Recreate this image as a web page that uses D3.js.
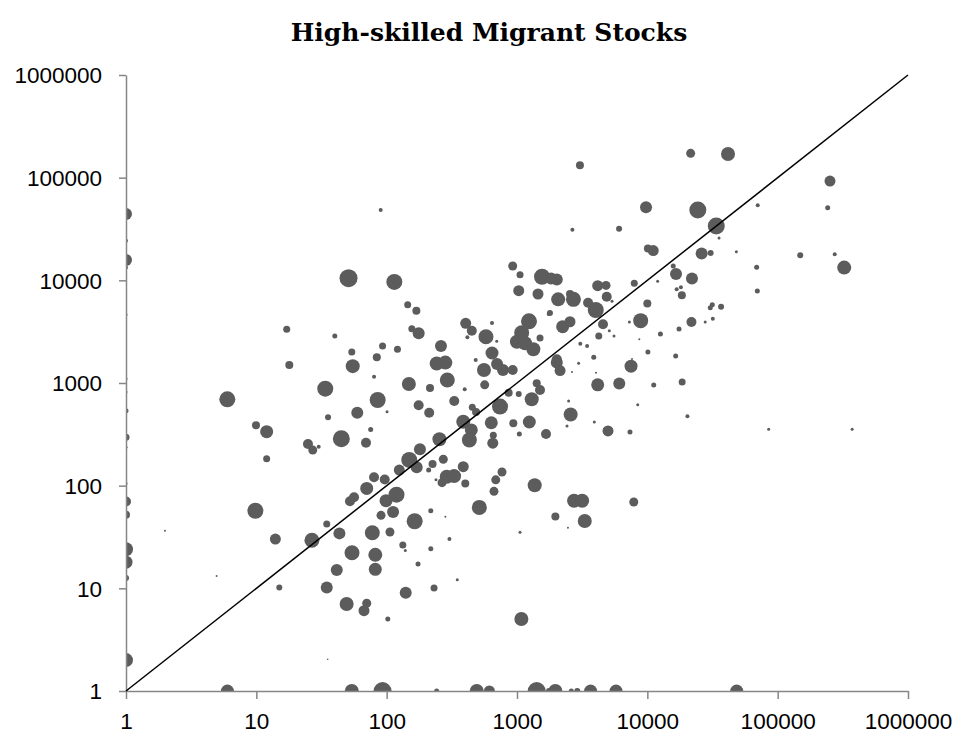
<!DOCTYPE html>
<meta charset="utf-8">
<html>
<head>
<script src="https://d3js.org/d3.v7.min.js"></script>
<style>
  body { margin: 0; background: #fff; }
  .tick text { font-family: "Liberation Sans", Arial, sans-serif; font-size: 22.5px; fill: #000; }
</style>
</head>
<body>
<div id="chart"></div>
<script>
// origin country stock (x) vs destination stock (y), bubble size = third variable
const xVals = [
  1, 1, 1, 1, 1, 1, 1, 1, 1, 1, 1, 1, 1, 1, 1, 1, 1, 1,
  6, 54, 93, 242, 491, 614, 1416, 1760, 1970, 2610, 2900, 3670, 5750, 48500,
  17.1, 90, 51, 114.5, 145, 169, 40, 54, 93, 121, 84, 156, 176, 261, 242, 282,
  404, 450, 416, 643, 578, 699, 643, 482, 927, 1055, 1556, 1031, 1449, 1236, 1086,
  998, 1153, 1335, 1502, 1750, 3040, 21500, 41600, 9770, 24400, 33800, 35500, 70300,
  2660, 6070, 10100, 11100, 48200, 30600, 26100, 15800, 69000, 16600, 22000, 12000,
  69800, 16800, 18100, 18400, 7940, 10000, 31500, 30400, 36800, 21800, 27800, 31800,
  8890, 7280, 17500, 12600, 8680, 10100, 16500, 4240, 4570, 3060, 3450, 3880, 5110,
  5550, 2020, 1825, 4160, 4820, 4880, 5360, 2070, 2710, 2550, 3510, 4020, 2240, 2550,
  1790, 2020, 7630, 252000, 242000, 149000, 274000, 324000,
  5.99, 9.94, 12, 12, 24.9, 27.1, 30.1, 17.9, 33.8, 35.5, 9.83, 14, 26.7, 34.7, 1.99, 4.96,
  54.9, 80, 292, 148, 215, 397, 85.3, 59.5, 100.7, 176, 212, 330, 558, 703, 781, 927,
  565, 863, 1031, 1417, 1297, 1502, 741, 635, 937, 1243, 1042, 1670, 454, 387, 446, 431,
  652, 658, 254, 44.9, 69.4, 75.4, 180, 149, 125, 170, 225, 210, 272, 387, 289, 329, 266,
  401, 239, 767, 687, 666, 1367, 80, 96.6, 70.3, 56.2, 52.3, 119, 98.9, 112, 90.5, 164,
  218, 514, 77.6, 106, 43.4, 133, 139, 218, 303, 282, 54.2, 81.8, 41.4, 81.8, 174, 1055,
  2020, 2140, 7500, 4160, 6090, 11200, 18500, 2970, 2640, 4040, 2490, 8440, 2580, 3920,
  2420, 4990, 7360, 20300, 85300, 2740, 3160, 7870, 1970, 3310, 2460,
  15, 34.7, 35.3, 49.3, 70.3, 67, 140, 231, 102, 1080, 348, 373000, 485
];
const yVals = [
  44300, 24300, 15800, 13300, 4620, 1100, 817, 537, 296, 237, 105, 70, 52, 24, 18, 12.6, 2, 1,
  1, 1, 1, 1, 1, 1, 1, 1, 1, 1, 1, 1, 1, 1,
  3330, 48400, 10500, 9640, 5790, 5060, 2870, 2000, 2290, 2130, 1780, 3380, 3050, 2290, 1550, 1580,
  3810, 3230, 2790, 3840, 2820, 2550, 1960, 1675, 13800, 11350, 10840, 7920, 7360, 3990, 3090,
  2525, 2440, 2130, 2740, 4700, 132000, 172500, 170000, 51400, 48400, 33800, 25800, 53800,
  31100, 31800, 20400, 19500, 19000, 18500, 18300, 13800, 13400, 11500, 10400, 9800,
  7870, 8190, 8560, 7150, 9350, 5960, 5790, 5410, 5530, 3930, 3930, 4230,
  4050, 3930, 3360, 3000, 2670, 2000, 1830, 2870, 3730, 2415, 2290, 1780, 3230,
  2870, 10200, 10400, 8870, 8930, 6920, 6250, 6530, 6530, 7360, 6050, 5140, 3540, 3950,
  4810, 1700, 1714, 92700, 50900, 17600, 18000, 13300,
  693, 387, 336, 183, 255, 222, 240, 1500, 880, 464, 57, 30.2, 29.4, 42.3, 36.4, 13.2,
  1460, 1150, 1070, 977, 893, 869, 683, 514, 525, 607, 514, 668, 1340, 1530, 1340, 1340,
  960, 804, 781, 993, 694, 854, 589, 410, 405, 417, 318, 318, 580, 420, 349, 279,
  259, 309, 283, 287, 262, 353, 226, 178, 142, 151, 163, 142, 181, 153, 122, 124, 107,
  105, 114, 136, 114, 88, 101, 121, 115, 94, 77.1, 70.5, 81.7, 71.4, 55.4, 51.4, 45,
  57, 61.4, 34.8, 35.4, 34.3, 26.4, 23.3, 24.3, 30.2, 49.9, 22.2, 21.2, 15.1, 15.3, 17.3, 35.1,
  1580, 1320, 1460, 960, 991, 955, 1020, 1556, 1280, 1260, 668, 615, 494, 417,
  381, 341, 334, 474, 354, 71.4, 71.4, 69.3, 50.2, 45.3, 39,
  10.2, 10.2, 2.04, 7.03, 7.15, 6.06, 9.06, 10.1, 5.03, 5.03, 12.1, 355, 521
];
const sizeVals = [
  6, 2, 6, 2, 1.5, 1.5, 1.5, 2.5, 3.5, 1.5, 1.5, 5, 4, 7, 6.5, 3, 7, 2,
  6.5, 7, 9, 2.5, 7, 5.5, 9, 3, 7, 2.5, 3, 6.5, 6.5, 6.5,
  3.5, 2, 9, 8, 3.5, 4, 2.5, 3.5, 3.5, 3.5, 4, 3.5, 6, 6, 7, 7,
  5.5, 5, 2, 2, 7.5, 1.5, 6.5, 2, 4.5, 3.5, 8, 5.5, 5.5, 8, 7.5,
  7, 7, 7, 3.5, 2, 4, 4.5, 7, 6, 8.5, 8.5, 1.5, 2,
  2, 3, 4, 5.5, 1.5, 3, 6, 2.5, 2.5, 6, 6, 1.5,
  2.5, 2, 2, 4, 3.5, 4, 2.5, 2.5, 3, 5, 1.5, 2,
  7.5, 1.5, 2.5, 2.5, 1, 2.5, 2.5, 3.5, 5, 2, 2, 2.5, 1.5,
  1.5, 6, 6, 5.5, 4.5, 5, 1.5, 7, 7.5, 4, 5, 8, 6.5, 5.5,
  3, 5, 1, 5.5, 2.5, 3, 2, 7,
  8, 4, 6.5, 3.5, 5, 4.5, 2, 4, 8, 3, 8, 5.5, 7.5, 3.5, 1, 1,
  7, 2, 7.5, 7, 4, 2, 8, 6, 1.5, 5, 5, 5, 7, 6, 6, 5,
  4.5, 4, 3, 4, 7, 5, 8, 6.5, 4, 6.5, 2.5, 5, 3.5, 7, 6.5, 7.5,
  5.5, 3.5, 7, 8.5, 5, 2.5, 6, 8, 5.5, 6, 4, 2.5, 4.5, 5.5, 7, 7, 4.5,
  4, 1.5, 4.5, 4.5, 4.5, 7, 5, 5, 6.5, 5, 5, 8, 6.5, 6, 4.5, 8,
  2.5, 7.5, 7.5, 4.5, 6, 3.5, 1.5, 2.5, 2, 1, 7.5, 7, 6, 6.5, 2.5, 1.5,
  6, 5.5, 6.5, 6.5, 6, 2.5, 3.5, 1.5, 1, 1, 1.5, 1.5, 7, 1.5,
  1.5, 5.5, 2.5, 2, 1.5, 7, 7, 4.5, 4, 7, 1,
  3, 6, 0.8, 7, 4.5, 5.5, 6, 3.5, 2.5, 7, 1.5, 1.5, 4
];
const tickVals = [1, 10, 100, 1000, 10000, 100000, 1000000];
const tickLabels = ["1", "10", "100", "1000", "10000", "100000", "1000000"];
const titleText = "High-skilled Migrant Stocks";

const points = xVals.map((d, i) => ({ x: d, y: yVals[i], s: sizeVals[i] }));

const W = 957, H = 735;
const margin = { top: 75, right: 49, bottom: 44, left: 126 };
const width = W - margin.left - margin.right,
      height = H - margin.top - margin.bottom;

const svg = d3.select("#chart").append("svg")
    .attr("width", W)
    .attr("height", H);

svg.append("text")
    .attr("x", 489)
    .attr("y", 41)
    .attr("text-anchor", "middle")
    .style("font-family", "'DejaVu Serif', serif")
    .style("font-weight", "bold")
    .style("font-size", "25px")
    .text(titleText);

const g = svg.append("g")
    .attr("transform", `translate(${margin.left},${margin.top})`);

const x = d3.scaleLog().domain([1, 1e6]).range([0, width]);
const y = d3.scaleLog().domain([1, 1e6]).range([height, 0]);
const r = d3.scaleLinear().domain([0, 10]).range([0, 10]);

g.append("clipPath").attr("id", "plotClip")
  .append("rect")
    .attr("x", 0).attr("y", -12)
    .attr("width", width + 12).attr("height", height + 12);

// points
g.append("g")
    .attr("clip-path", "url(#plotClip)")
  .selectAll("circle")
  .data(points)
  .join("circle")
    .attr("cx", d => x(d.x))
    .attr("cy", d => y(d.y))
    .attr("r", d => r(d.s))
    .attr("fill", "#5c5c5c");

// axes
const xAxis = g.append("g")
    .attr("transform", `translate(0,${height})`)
    .call(d3.axisBottom(x).tickValues(tickVals).tickFormat((d, i) => tickLabels[i]).tickSize(8).tickSizeOuter(0).tickPadding(7));
const yAxis = g.append("g")
    .call(d3.axisLeft(y).tickValues(tickVals).tickFormat((d, i) => tickLabels[i]).tickSize(7).tickSizeOuter(0).tickPadding(17));

[xAxis, yAxis].forEach(a => {
  a.select(".domain").attr("stroke", "#868686").attr("stroke-width", 1.5);
  a.selectAll(".tick line").attr("stroke", "#868686").attr("stroke-width", 1.5);
});
xAxis.selectAll(".tick text").attr("dy", "1em");
yAxis.selectAll(".tick text").attr("dy", "0.35em");

// 45 degree line
const diag = [1, 1e6];
g.append("line")
    .attr("x1", x(diag[0])).attr("y1", y(diag[0]))
    .attr("x2", x(diag[1])).attr("y2", y(diag[1]))
    .attr("stroke", "#000")
    .attr("stroke-width", 1.5);
</script>
</body>
</html>
